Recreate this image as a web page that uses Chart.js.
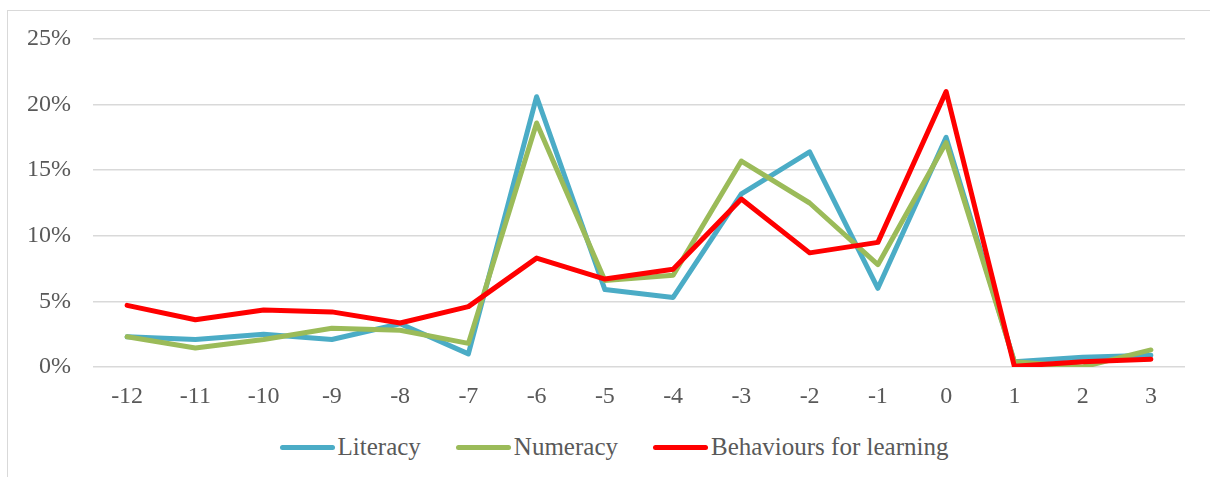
<!DOCTYPE html>
<html>
<head>
<meta charset="utf-8">
<script src="https://cdn.jsdelivr.net/npm/chart.js@4.4.0/dist/chart.umd.min.js"></script>
<style>
    html, body { margin: 0; padding: 0; background: #fff; width: 1210px; height: 477px; overflow: hidden; }
    #frame { position: absolute; left: 7px; top: 10px; width: 1210px; height: 480px; border-left: 1px solid #d9d9d9; border-top: 1px solid #d9d9d9; }
    #chart-wrap { position: absolute; left: 8px; top: 11px; width: 1202px; height: 420px; }
    #custom-legend-container { position: absolute; left: 8px; top: 433px; width: 1212px; display: flex; justify-content: center; gap: 35px;
        font-family: "Liberation Serif", serif; font-size: 25px; color: #595959; }
    .legend-item { display: flex; align-items: center; }
    .legend-color-box { display: inline-block; width: 55px; height: 5px; border-radius: 3px; margin-right: 3px; }
</style>
</head>
<body>
<div id="frame"></div>
<div id="chart-wrap"><canvas id="priceChart"></canvas></div>
<div id="custom-legend-container"></div>
<script>
// Data (percent)
const categories = ['-12', '-11', '-10', '-9', '-8', '-7', '-6', '-5', '-4', '-3', '-2', '-1', '0', '1', '2', '3'];
const literacy = [2.3, 2.1, 2.5, 2.1, 3.3, 1.0, 20.6, 5.9, 5.3, 13.2, 16.4, 6.0, 17.5, 0.4, 0.75, 0.9];
const numeracy = [2.3, 1.45, 2.1, 2.95, 2.8, 1.8, 18.6, 6.6, 7.0, 15.7, 12.5, 7.8, 17.1, 0.4, 0.0, 1.3];
const behaviours = [4.7, 3.6, 4.35, 4.2, 3.35, 4.6, 8.3, 6.7, 7.45, 12.8, 8.7, 9.5, 21.0, 0.05, 0.4, 0.6];
const yTicks = [0, 5, 10, 15, 20, 25];

const SERIES = [
    { label: 'Literacy', data: literacy, color: '#4bacc6', order: 3 },
    { label: 'Numeracy', data: numeracy, color: '#9bbb59', order: 2 },
    { label: 'Behaviours for learning', data: behaviours, color: '#ff0000', order: 1 }
];

const FONT = { family: '"Liberation Serif", serif', size: 24 };
const TEXT_COLOR = '#595959';

const datasets = SERIES.map(s => ({
    label: s.label,
    data: s.data,
    order: s.order,
    borderColor: s.color,
    backgroundColor: s.color,
    borderWidth: 5,
    borderCapStyle: 'round',
    borderJoinStyle: 'round',
    pointRadius: 0,
    tension: 0
}));

new Chart(document.getElementById('priceChart').getContext('2d'), {
    type: 'line',
    data: { labels: categories, datasets },
    options: {
        responsive: true,
        maintainAspectRatio: false,
        animation: false,
        layout: { padding: { top: 28, right: 25, bottom: 0, left: 0 } },
        scales: {
            x: {
                offset: true,
                grid: { display: false },
                border: { display: false },
                ticks: { color: TEXT_COLOR, font: FONT, padding: 7, maxRotation: 0 },
                afterFit: (scale) => { scale.height = 64; }
            },
            y: {
                min: 0,
                max: 25,
                afterBuildTicks: (scale) => { scale.ticks = yTicks.map(v => ({ value: v })); },
                grid: { color: '#d9d9d9', lineWidth: 1.5, drawTicks: false },
                border: { display: false },
                ticks: { color: TEXT_COLOR, font: FONT, padding: 22, callback: v => v + '%' },
                // keep the tick padding from pushing the plot area down
                afterFit: (scale) => { scale.width = 85; scale.paddingTop = 0; scale.paddingBottom = 0; }
            }
        },
        plugins: {
            legend: { display: false },
            tooltip: { enabled: false }
        }
    }
});

const legendContainer = document.getElementById('custom-legend-container');
SERIES.forEach(s => {
    const legendItem = document.createElement('div');
    legendItem.className = 'legend-item';
    legendItem.innerHTML = `<span class="legend-color-box" style="background-color:${s.color}"></span><span class="legend-text">${s.label}</span>`;
    legendContainer.appendChild(legendItem);
});
</script>
</body>
</html>
